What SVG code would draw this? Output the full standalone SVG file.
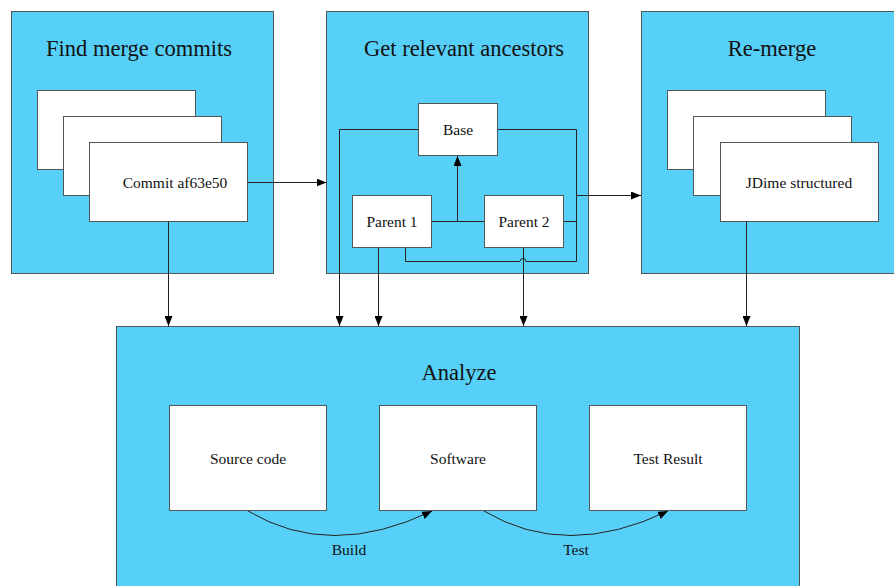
<svg xmlns="http://www.w3.org/2000/svg" width="894" height="586" viewBox="0 0 894 586">
<defs>
<marker id="ah" viewBox="0 0 10 8" refX="10" refY="4" markerWidth="10" markerHeight="8" markerUnits="userSpaceOnUse" orient="auto">
<path d="M0,0 L10,4 L0,8 Z" fill="#000"/>
</marker>
</defs>
<style>
.panel{fill:#57d0f9;stroke:#555;stroke-width:1}
.box{fill:#fff;stroke:#555;stroke-width:1}
.title{font-family:"Liberation Serif","DejaVu Serif",serif;font-size:22.5px;fill:#111;text-anchor:middle}
.lbl{font-family:"Liberation Serif","DejaVu Serif",serif;font-size:15.5px;fill:#111;text-anchor:middle}
.edge{fill:none;stroke:#222;stroke-width:1}
.arr{marker-end:url(#ah)}
</style>
<rect width="894" height="586" fill="#fff"/>
<g id="find-merge-commits">
<rect class="panel" x="11.5" y="11.5" width="262" height="262"/>
<text class="title" x="139" y="56">Find merge commits</text>
<rect class="box" x="37.5" y="90.5" width="158" height="79"/>
<rect class="box" x="63.5" y="116.5" width="158" height="79"/>
<rect class="box" x="89.5" y="142.5" width="158" height="79"/>
<text class="lbl" x="175" y="188">Commit af63e50</text>
</g>
<g id="get-relevant-ancestors">
<rect class="panel" x="326.5" y="11.5" width="262" height="262"/>
<text class="title" x="464" y="56">Get relevant ancestors</text>
</g>
<g id="re-merge">
<rect class="panel" x="641.5" y="11.5" width="262" height="262"/>
<text class="title" x="772" y="56">Re-merge</text>
<rect class="box" x="667.5" y="90.5" width="158" height="79"/>
<rect class="box" x="693.5" y="116.5" width="158" height="79"/>
<rect class="box" x="720.5" y="142.5" width="158" height="79"/>
<text class="lbl" x="799" y="188">JDime structured</text>
</g>
<g id="analyze">
<rect class="panel" x="116.5" y="326.5" width="683" height="270"/>
<text class="title" x="459" y="380">Analyze</text>
</g>
<g id="connectors">
<path class="edge arr" d="M247.5,182.5 H326.5"/>
<path class="edge arr" d="M168.5,221.5 V326"/>
<path class="edge arr" d="M418,129.5 H339.5 V326"/>
<path class="edge" d="M497,129.5 H576.5 V261.5 H526 a3,3 0 0 0 -6,0 H405.5 V248"/>
<path class="edge" d="M563,221.5 H576.5"/>
<path class="edge arr" d="M576.5,195.5 H641"/>
<path class="edge" d="M431,221.5 H484"/>
<path class="edge arr" d="M457.5,221.5 V156"/>
<path class="edge arr" d="M378.5,248 V326"/>
<path class="edge arr" d="M523.5,248 V326"/>
<path class="edge arr" d="M746.5,221.5 V326"/>
<path class="edge arr" d="M248,511 Q330,560 432,511"/>
<path class="edge arr" d="M484,511 Q566,560 668,511"/>
<text class="lbl" x="349" y="555">Build</text>
<text class="lbl" x="576" y="555">Test</text>
</g>
<g id="base">
<rect class="box" x="418.5" y="103.5" width="79" height="52"/>
<text class="lbl" x="458" y="135">Base</text>
</g>
<g id="parent-1">
<rect class="box" x="352.5" y="195.5" width="79" height="52"/>
<text class="lbl" x="392" y="227">Parent 1</text>
</g>
<g id="parent-2">
<rect class="box" x="484.5" y="195.5" width="79" height="52"/>
<text class="lbl" x="524" y="227">Parent 2</text>
</g>
<g id="source-code">
<rect class="box" x="169.5" y="405.5" width="157" height="105"/>
<text class="lbl" x="248" y="464">Source code</text>
</g>
<g id="software">
<rect class="box" x="379.5" y="405.5" width="157" height="105"/>
<text class="lbl" x="458" y="464">Software</text>
</g>
<g id="test-result">
<rect class="box" x="589.5" y="405.5" width="157" height="105"/>
<text class="lbl" x="668" y="464">Test Result</text>
</g>
</svg>
